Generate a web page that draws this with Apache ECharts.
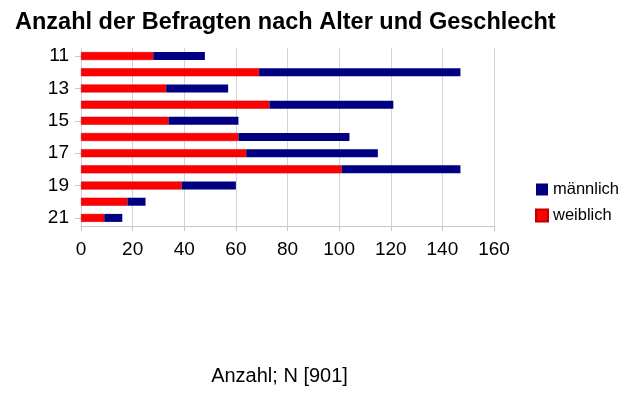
<!DOCTYPE html>
<html>
<head>
<meta charset="utf-8">
<script src="https://cdn.jsdelivr.net/npm/echarts@6/dist/echarts.min.js"></script>
<style>
  html, body { margin: 0; padding: 0; background: #fff; }
  #chart { width: 640px; height: 399px; }
</style>
</head>
<body>
<div id="chart"></div>
<script>
// Alter (Jahre) und Anzahl der Befragten
const ages = ['11', '12', '13', '14', '15', '16', '17', '18', '19', '20', '21'];
const weiblich = [28, 69, 33, 73, 34, 61, 64, 101, 39, 18, 9];
const maennlich = [20, 78, 24, 48, 27, 43, 51, 46, 21, 7, 7];
const xTicks = [0, 20, 40, 60, 80, 100, 120, 140, 160];

const font = 'Liberation Sans, Arial, sans-serif';
const chart = echarts.init(document.getElementById('chart'));

chart.setOption({
    animation: false,
    title: {
        text: 'Anzahl der Befragten nach Alter und Geschlecht',
        left: 10,
        top: 6,
        textStyle: { fontFamily: font, fontSize: 23.5, fontWeight: 'bold', color: '#000' }
    },
    legend: {
        orient: 'vertical',
        left: 530,
        top: 176,
        itemWidth: 12,
        itemHeight: 12,
        itemGap: 9,
        icon: 'rect',
        data: ['männlich', 'weiblich'],
        textStyle: { fontFamily: font, fontSize: 16.5, color: '#000' }
    },
    grid: { left: 81, right: 146, top: 48, bottom: 173 },
    xAxis: {
        type: 'value',
        min: xTicks[0],
        max: xTicks[xTicks.length - 1],
        interval: 20,
        name: 'Anzahl; N [901]',
        nameLocation: 'middle',
        nameGap: 140,
        nameTextStyle: { fontFamily: font, fontSize: 20, color: '#000', padding: [0, 16, 0, 0] },
        axisLine: { show: true, lineStyle: { color: '#c8c8c8' } },
        axisTick: { show: true, length: 5, lineStyle: { color: '#c8c8c8' } },
        axisLabel: { fontFamily: font, fontSize: 19, color: '#000', margin: 14 },
        splitLine: { show: true, lineStyle: { color: '#d4d4d4' } }
    },
    yAxis: {
        type: 'category',
        data: ages,
        inverse: true,
        axisLine: { show: false },
        axisTick: { show: true, alignWithLabel: true, length: 6, lineStyle: { color: '#c8c8c8' } },
        axisLabel: { interval: 1, fontFamily: font, fontSize: 19, color: '#000', margin: 12 }
    },
    series: [
        {
            name: 'weiblich',
            type: 'bar',
            stack: 'gesamt',
            data: weiblich,
            barWidth: 8,
            itemStyle: { color: '#ff0000', borderColor: '#c00000', borderWidth: 0.5 }
        },
        {
            name: 'männlich',
            type: 'bar',
            stack: 'gesamt',
            data: maennlich,
            barWidth: 8,
            itemStyle: { color: '#000080' }
        }
    ]
});
</script>
</body>
</html>
